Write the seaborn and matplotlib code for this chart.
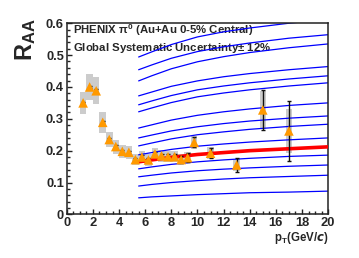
import numpy as np
import pandas as pd
import matplotlib
matplotlib.use('Agg')
import matplotlib.pyplot as plt
import seaborn as sns
from matplotlib.ticker import MultipleLocator, FuncFormatter

# ---- data ----
pt = [1.25, 1.75, 2.25, 2.75, 3.25, 3.75, 4.25, 4.75, 5.25, 5.75, 6.25, 6.75,
      7.25, 7.75, 8.25, 8.75, 9.25, 9.75, 11.0, 13.0, 15.0, 17.0]
raa = [0.350, 0.400, 0.388, 0.289, 0.235, 0.213, 0.198, 0.195, 0.172, 0.180,
       0.171, 0.190, 0.184, 0.181, 0.181, 0.172, 0.178, 0.226, 0.192, 0.155,
       0.328, 0.262]
stat = [0.004, 0.004, 0.004, 0.004, 0.004, 0.004, 0.004, 0.004, 0.004, 0.005,
        0.005, 0.006, 0.006, 0.007, 0.008, 0.010, 0.014, 0.016, 0.016, 0.022,
        0.063, 0.094]
sys_err = [0.034, 0.040, 0.042, 0.032, 0.025, 0.022, 0.020, 0.020, 0.018, 0.018,
           0.018, 0.018, 0.018, 0.018, 0.018, 0.018, 0.018, 0.020, 0.018, 0.018,
           0.060, 0.070]

curve_x = [5.5, 6.5, 8.0, 10.0, 12.0, 14.0, 17.0, 20.0]
curve_01 = [0.494, 0.510, 0.533, 0.557, 0.573, 0.585, 0.600, 0.612]
curve_02 = [0.454, 0.469, 0.490, 0.511, 0.526, 0.538, 0.553, 0.564]
curve_03 = [0.419, 0.435, 0.457, 0.479, 0.495, 0.508, 0.523, 0.535]
curve_04 = [0.372, 0.384, 0.402, 0.419, 0.432, 0.442, 0.454, 0.464]
curve_05 = [0.344, 0.356, 0.373, 0.391, 0.403, 0.413, 0.425, 0.435]
curve_06 = [0.322, 0.334, 0.351, 0.369, 0.381, 0.391, 0.403, 0.413]
curve_07 = [0.271, 0.281, 0.296, 0.311, 0.322, 0.331, 0.342, 0.350]
curve_08 = [0.240, 0.249, 0.262, 0.275, 0.285, 0.293, 0.302, 0.309]
curve_09 = [0.215, 0.224, 0.237, 0.250, 0.259, 0.267, 0.276, 0.283]
curve_10 = [0.187, 0.194, 0.204, 0.214, 0.221, 0.227, 0.234, 0.240]
curve_11 = [0.143, 0.149, 0.157, 0.165, 0.171, 0.176, 0.182, 0.186]
curve_12 = [0.118, 0.123, 0.130, 0.137, 0.142, 0.146, 0.151, 0.155]
curve_13 = [0.089, 0.094, 0.100, 0.106, 0.111, 0.115, 0.119, 0.123]
curve_14 = [0.052, 0.055, 0.058, 0.062, 0.065, 0.068, 0.070, 0.073]
best_fit = [0.165, 0.171, 0.179, 0.188, 0.194, 0.200, 0.206, 0.212]

x_ticks = [0, 2, 4, 6, 8, 10, 12, 14, 16, 18, 20]
y_ticks = [0, 0.1, 0.2, 0.3, 0.4, 0.5, 0.6]

title_1 = r'PHENIX $\pi^{0}$ (Au+Au 0-5% Central)'
title_2 = r'Global Systematic Uncertainty$\pm$ 12%'

# ---- style ----
sns.set_theme(style='ticks')
plt.rcParams['font.family'] = ['Liberation Sans', 'DejaVu Sans']
plt.rcParams['font.weight'] = 'bold'
plt.rcParams['mathtext.default'] = 'regular'
plt.rcParams['mathtext.fontset'] = 'dejavusans'

fig = plt.figure(figsize=(3.59, 2.58), dpi=100)
ax = fig.add_axes([0.186, 0.169, 0.728, 0.741])

curves = [curve_01, curve_02, curve_03, curve_04, curve_05, curve_06, curve_07,
          curve_08, curve_09, curve_10, curve_11, curve_12, curve_13, curve_14]
df = pd.DataFrame({
    'pT': np.tile(curve_x, len(curves)),
    'RAA': np.concatenate(curves),
    'curve': np.repeat(np.arange(len(curves)), len(curve_x)),
})

# systematic boxes
ax.bar(pt, [2 * s for s in sys_err], bottom=[r - s for r, s in zip(raa, sys_err)],
       width=0.5, color='#cccccc', linewidth=0, zorder=1)

sns.lineplot(data=df, x='pT', y='RAA', units='curve', estimator=None,
             color='#0000ff', linewidth=0.9, ax=ax, legend=False, zorder=2)
sns.lineplot(x=curve_x, y=best_fit, color='#ff0000', linewidth=2.6, ax=ax, zorder=3)

ax.errorbar(pt, raa, yerr=stat, fmt='none', ecolor='#111111', elinewidth=1.0,
            capsize=1.5, capthick=1.0, zorder=4)
sns.scatterplot(x=pt, y=raa, marker='^', s=48, color='#ff9900', edgecolor='none',
                ax=ax, zorder=5)

ax.set_xlim(0, 20)
ax.set_ylim(0, 0.6)
ax.set_xticks(x_ticks)
ax.set_yticks(y_ticks)
ax.xaxis.set_minor_locator(MultipleLocator(0.5))
ax.yaxis.set_minor_locator(MultipleLocator(0.02))
ax.yaxis.set_major_formatter(FuncFormatter(lambda v, _: '0' if abs(v) < 1e-9 else f'{v:.1f}'))
ax.xaxis.set_major_formatter(FuncFormatter(lambda v, _: f'{int(round(v))}'))
ax.tick_params(which='both', direction='in', top=False, right=False,
               labelsize=9.3, pad=2, color='#222222', width=1.0)
ax.tick_params(which='major', length=3.8)
ax.tick_params(which='minor', length=2.0)
for lab in ax.get_xticklabels() + ax.get_yticklabels():
    lab.set_fontweight('bold')
for sp in ax.spines.values():
    sp.set_visible(True)
    sp.set_color('#222222')
    sp.set_linewidth(1.1)
ax.set_xlabel('')
ax.set_ylabel('')

ax.text(0.023, 0.962, title_1, transform=ax.transAxes, fontsize=8.2,
        fontweight='bold', va='center', ha='left', zorder=1.5)
ax.text(0.023, 0.872, title_2, transform=ax.transAxes, fontsize=8.2,
        fontweight='bold', va='center', ha='left', zorder=1.5)

fig.text(0.072, 0.928, r'R$_{AA}$', rotation=90, fontsize=17, fontweight='bold',
         ha='center', va='top')
ax.text(1.0, -0.08, r'p$_{T}$(GeV/$\it{c}$)', transform=ax.transAxes,
        fontsize=8.3, fontweight='bold', ha='right', va='top')

fig.savefig('out.png', dpi=100)
